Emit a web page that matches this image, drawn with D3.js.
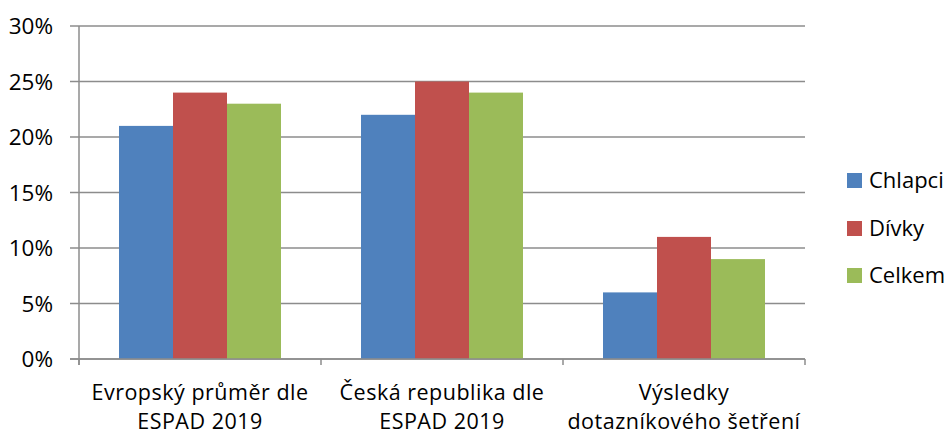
<!DOCTYPE html>
<html><head><meta charset="utf-8">
<script src="https://cdn.jsdelivr.net/npm/d3@7"></script>
<style>body{margin:0;background:#fff}</style>
</head><body>
<svg id="c" width="950" height="436"></svg>
<script>
const categories = [["Evropský průměr dle","ESPAD 2019"],["Česká republika dle","ESPAD 2019"],["Výsledky","dotazníkového šetření"]];
const seriesNames = ["Chlapci","Dívky","Celkem"];
const chlapci = [21, 22, 6];
const divky = [24, 25, 11];
const celkem = [23, 24, 9];
const yTicks = [0,5,10,15,20,25,30];
const colors = ["#4F81BD","#C0504D","#9BBB59"];
const series = [chlapci, divky, celkem];

const svg = d3.select("#c");
const font = "'Open Sans', sans-serif";
const L = 79, R = 805, T = 26, B = 359;
const x = d3.scaleBand().domain(d3.range(categories.length)).range([L, R]).paddingInner(0).paddingOuter(0);
const inner = d3.scaleBand().domain(d3.range(series.length)).range([40, x.bandwidth()-40]);
const y = d3.scaleLinear().domain([0,30]).range([B, T]);

svg.append("g").selectAll("line").data(yTicks).join("line")
  .attr("x1", 70).attr("x2", R).attr("y1", d=>y(d)).attr("y2", d=>y(d))
  .attr("stroke", "#8c8c8c").attr("stroke-width", 1.5);
svg.append("g").selectAll("text").data(yTicks).join("text")
  .attr("x", 53).attr("y", d=>y(d)+8).attr("text-anchor","end")
  .attr("font-family", font).attr("font-size", 22.5).attr("fill","#000")
  .text(d=>d+"%");

series.forEach((s, si) => {
  svg.append("g").selectAll("rect").data(s).join("rect")
    .attr("x", (d,i)=>x(i)+inner(si)).attr("width", inner.bandwidth())
    .attr("y", d=>y(d)).attr("height", d=>B-y(d))
    .attr("fill", colors[si]);
});

svg.append("line").attr("x1", L).attr("x2", L).attr("y1", T).attr("y2", B+6)
  .attr("stroke", "#8c8c8c").attr("stroke-width", 1.5);
svg.append("line").attr("x1", 70).attr("x2", R).attr("y1", B).attr("y2", B)
  .attr("stroke", "#8c8c8c").attr("stroke-width", 1.5);
svg.append("g").selectAll("line").data(d3.range(categories.length+1)).join("line")
  .attr("x1", d=>L + d*x.bandwidth()).attr("x2", d=>L + d*x.bandwidth())
  .attr("y1", B).attr("y2", B+6).attr("stroke", "#8c8c8c").attr("stroke-width", 1.5);

categories.forEach((c,i) => {
  c.forEach((line, li) => {
    svg.append("text").attr("x", x(i)+x.bandwidth()/2).attr("y", 399.5 + li*29.5)
      .attr("text-anchor","middle").attr("font-family", font).attr("font-size", 21.5)
      .attr("letter-spacing", 0.5)
      .attr("fill","#000").text(line);
  });
});

const ly = [180, 228, 275];
seriesNames.forEach((n,i) => {
  svg.append("rect").attr("x", 847).attr("y", ly[i]-7).attr("width", 15).attr("height", 15).attr("fill", colors[i]);
  svg.append("text").attr("x", 869).attr("y", ly[i]+8).attr("font-family", font).attr("font-size", 22)
    .attr("fill","#000").text(n);
});
</script>
</body></html>
